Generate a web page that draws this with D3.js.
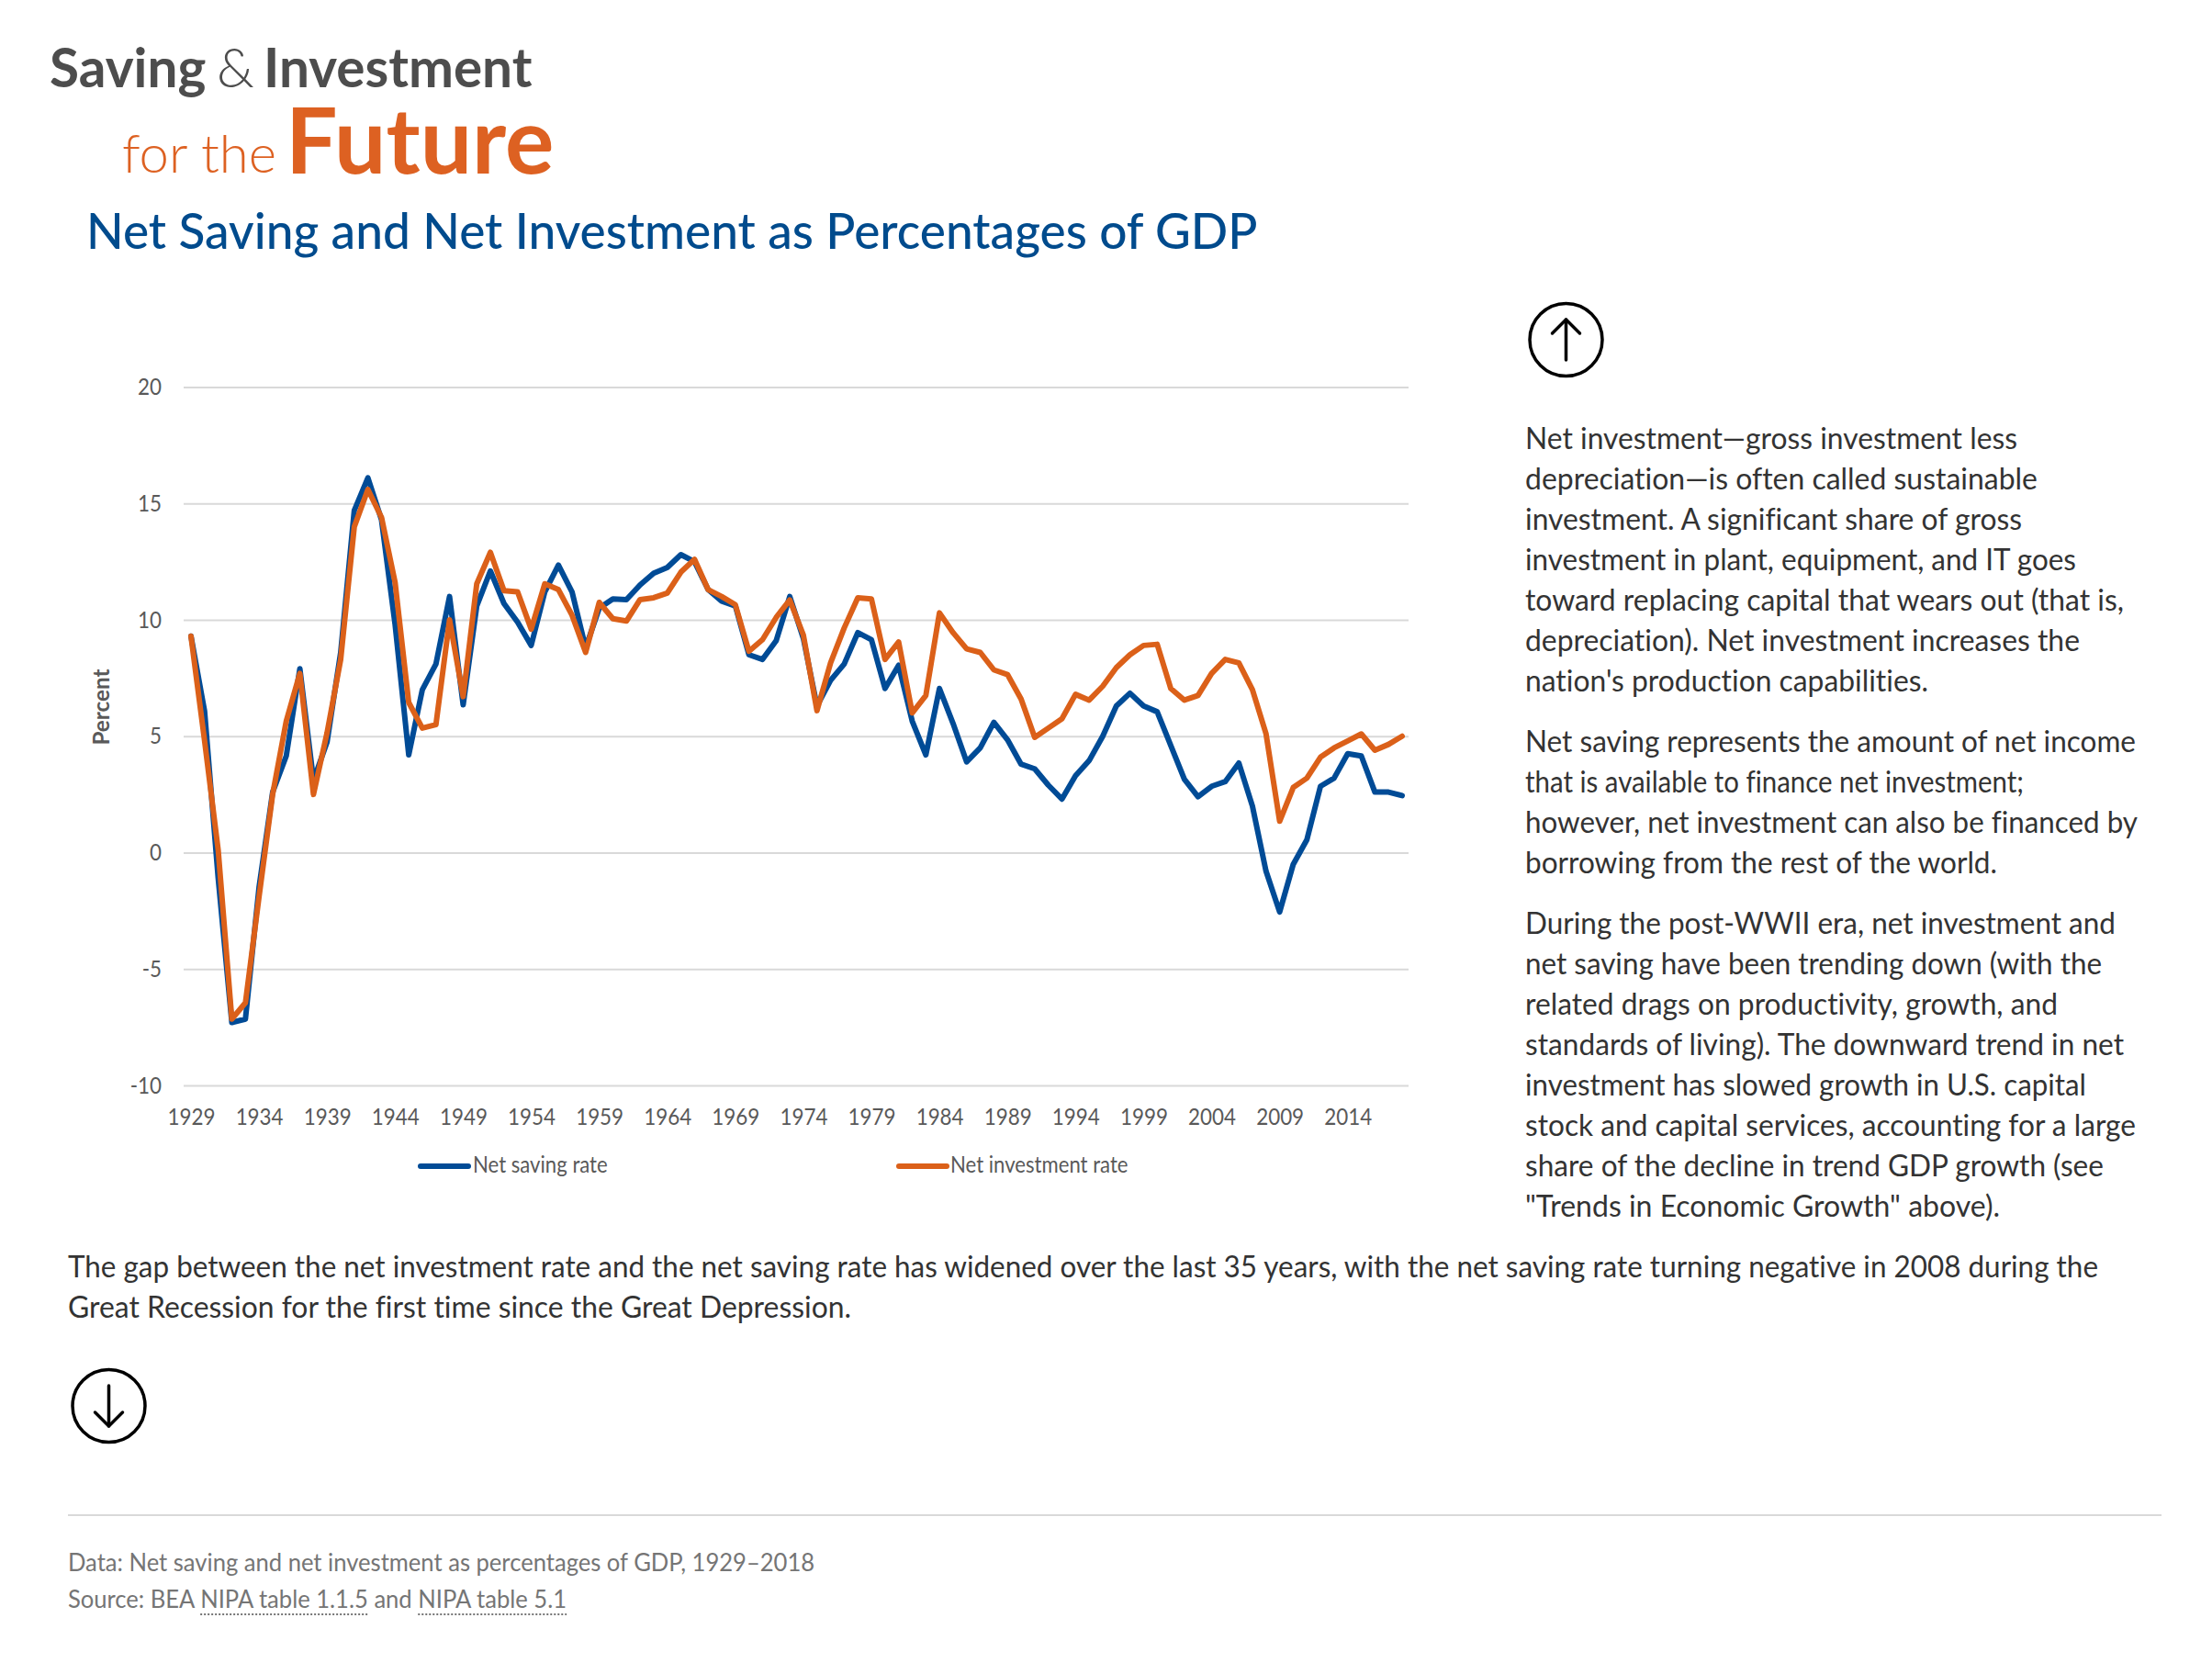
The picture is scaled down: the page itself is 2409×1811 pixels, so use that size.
<!DOCTYPE html>
<html><head><meta charset="utf-8">
<script src="https://cdn.jsdelivr.net/npm/d3@7/dist/d3.min.js"></script>
<style>html,body{margin:0;padding:0;background:#fff}svg{display:block}text{font-family:Lato,sans-serif;font-variant-ligatures:none}</style>
</head><body><div id="c"></div>
<script>
const firstYear = 1929;
const savingRate = [9.3,6.07,-1.1,-7.3,-7.15,-1.5,2.6,4.15,7.9,3.1,4.75,8.6,14.7,16.1,14.3,9.8,4.2,7.0,8.1,11.0,6.35,10.6,12.1,10.7,9.9,8.9,11.2,12.35,11.2,8.8,10.5,10.9,10.87,11.5,12.0,12.25,12.8,12.5,11.3,10.8,10.6,8.5,8.3,9.1,11.0,9.2,6.3,7.4,8.1,9.45,9.15,7.05,8.05,5.65,4.2,7.05,5.55,3.9,4.5,5.6,4.85,3.8,3.6,2.9,2.3,3.3,3.95,5.0,6.3,6.85,6.3,6.05,4.6,3.15,2.4,2.85,3.05,3.85,2.0,-0.8,-2.55,-0.5,0.55,2.85,3.2,4.25,4.15,2.6,2.6,2.45];
const investmentRate = [9.3,4.8,0.1,-7.15,-6.45,-1.9,2.5,5.65,7.7,2.5,5.15,8.3,14.0,15.6,14.4,11.6,6.45,5.35,5.5,10.0,6.7,11.55,12.9,11.25,11.2,9.6,11.55,11.3,10.2,8.6,10.75,10.05,9.95,10.87,10.95,11.15,12.05,12.6,11.3,11.0,10.65,8.65,9.15,10.1,10.85,9.35,6.1,8.15,9.65,10.95,10.9,8.3,9.05,6.0,6.75,10.3,9.45,8.75,8.6,7.85,7.65,6.6,4.95,5.35,5.75,6.8,6.55,7.15,7.95,8.5,8.9,8.95,7.05,6.55,6.75,7.7,8.3,8.15,7.0,5.1,1.35,2.8,3.2,4.1,4.5,4.8,5.1,4.4,4.65,5.0];
const yTicks = [-10,-5,0,5,10,15,20];
const xTickYears = [1929,1934,1939,1944,1949,1954,1959,1964,1969,1974,1979,1984,1989,1994,1999,2004,2009,2014];
const seriesNames = ["Net saving rate","Net investment rate"];
const seriesColors = ["#004b96","#db6019"];
const sideParagraphs = [
 ["Net investment—gross investment less","depreciation—is often called sustainable","investment. A significant share of gross","investment in plant, equipment, and IT goes","toward replacing capital that wears out (that is,","depreciation). Net investment increases the","nation's production capabilities."],
 ["Net saving represents the amount of net income","that is available to finance net investment;","however, net investment can also be financed by","borrowing from the rest of the world."],
 ["During the post-WWII era, net investment and","net saving have been trending down (with the","related drags on productivity, growth, and","standards of living). The downward trend in net","investment has slowed growth in U.S. capital","stock and capital services, accounting for a large","share of the decline in trend GDP growth (see","\"Trends in Economic Growth\" above)."]];
const bottomLines = ["The gap between the net investment rate and the net saving rate has widened over the last 35 years, with the net saving rate turning negative in 2008 during the","Great Recession for the first time since the Great Depression."];
// line widths of the running text, in pixels
const sideWidths = [[536,558,541,600,652,604,439],[665,543,667,514],[643,628,580,652,611,665,630,517]];
const bottomWidths = [2211,853];

const svg = d3.select("#c").append("svg").attr("width",2409).attr("height",1811);
const x = d3.scaleLinear().domain([1929,2018]).range([208,1527]);
const y = d3.scaleLinear().domain([-10,20]).range([1182,421.5]);
function squeeze(sel,f){ sel.each(function(){ d3.select(this).attr("lengthAdjust","spacingAndGlyphs").attr("textLength",this.getComputedTextLength()*f); }); return sel; }
function fit(sel,w){ return sel.attr("lengthAdjust","spacingAndGlyphs").attr("textLength",w); }

// header
const head = (tx,ty,size,weight,fill,s)=>svg.append("text").attr("x",tx).attr("y",ty).attr("font-size",size).attr("font-weight",weight).attr("fill",fill).text(s);
head(54,95,58.5,700,"#4d4d4d","Saving");
head(236,95,58.5,300,"#4d4d4d","&");
head(287,95,58.5,700,"#4d4d4d","Investment");
head(133,188,58,300,"#dd6122","for the");
head(311,189,100,700,"#dd6122","Future");
squeeze(svg.append("text").attr("x",94).attr("y",271).attr("font-size",54).attr("fill","#004b8d").attr("font-weight",500).text("Net Saving and Net Investment as Percentages of GDP"),0.985);

// grid + axes
const gy = svg.append("g").attr("transform","translate(200,0)")
  .call(d3.axisLeft(y).tickValues(yTicks).tickSize(-1334).tickPadding(24).tickFormat(d=>String(d)));
gy.select(".domain").remove();
gy.selectAll("line").attr("stroke","#d9d9d9").attr("stroke-width",2);
squeeze(gy.selectAll("text").attr("font-family",null).attr("font-size",25.6).attr("fill","#595959"),0.875);
const gx = svg.append("g").attr("transform","translate(0,1182)")
  .call(d3.axisBottom(x).tickValues(xTickYears).tickSize(0).tickPadding(25).tickFormat(d=>String(d)));
gx.select(".domain").remove();
squeeze(gx.selectAll("text").attr("font-family",null).attr("font-size",25.6).attr("fill","#595959"),0.875);
svg.append("text").attr("transform","translate(119,770) rotate(-90)").attr("text-anchor","middle").attr("font-weight",700).attr("font-size",24.3).attr("fill","#595959").text("Percent");

// lines
const line = d3.line().x((d,i)=>x(firstYear+i)).y(d=>y(d));
[savingRate,investmentRate].forEach((s,k)=>{
  svg.append("path").attr("d",line(s)).attr("fill","none").attr("stroke",seriesColors[k]).attr("stroke-width",6).attr("stroke-linejoin","round").attr("stroke-linecap","round");
});

// legend
[[458,510,515],[979,1031,1035]].forEach((p,k)=>{
  svg.append("line").attr("x1",p[0]).attr("x2",p[1]).attr("y1",1270).attr("y2",1270).attr("stroke",seriesColors[k]).attr("stroke-width",6).attr("stroke-linecap","round");
  squeeze(svg.append("text").attr("x",p[2]).attr("y",1277).attr("font-size",25.3).attr("fill","#595959").text(seriesNames[k]),0.875);
});

// arrows
function arrowIcon(cx,cy,dir){
  const g = svg.append("g").attr("fill","none").attr("stroke","#000").attr("stroke-width",3.5).attr("stroke-linecap","round").attr("stroke-linejoin","round");
  g.append("circle").attr("cx",cx).attr("cy",cy).attr("r",39.5);
  g.append("line").attr("x1",cx).attr("x2",cx).attr("y1",cy-dir*22).attr("y2",cy+dir*22);
  g.append("path").attr("d",`M${cx-15},${cy+dir*7}L${cx},${cy+dir*22}L${cx+15},${cy+dir*7}`);
}
arrowIcon(1705.5,370,-1);
arrowIcon(118.5,1531,1);

// text blocks
let by = 489;
sideParagraphs.forEach((p,pi)=>{
  p.forEach((l,li)=>{ fit(svg.append("text").attr("x",1661).attr("y",by).attr("font-size",32).attr("fill","#333").text(l),sideWidths[pi][li]); by+=44; });
  by += 22;
});
bottomLines.forEach((l,i)=>fit(svg.append("text").attr("x",74).attr("y",1391+i*44).attr("font-size",32).attr("fill","#333").text(l),bottomWidths[i]));

svg.append("line").attr("x1",74).attr("x2",2354).attr("y1",1650).attr("y2",1650).attr("stroke","#d9d9d9").attr("stroke-width",2);
squeeze(svg.append("text").attr("x",74).attr("y",1711).attr("font-size",26).attr("fill","#757575").text("Data: Net saving and net investment as percentages of GDP, 1929–2018"),0.984);
const src = svg.append("text").attr("x",74).attr("y",1751).attr("font-size",26).attr("fill","#757575");
src.append("tspan").text("Source: BEA ");
src.append("tspan").attr("class","u").text("NIPA table 1.1.5");
src.append("tspan").text(" and ");
src.append("tspan").attr("class","u").text("NIPA table 5.1");
squeeze(src,0.984);
src.selectAll("tspan.u").each(function(){
  const n=this, s=n.getStartPositionOfChar(0).x, e=n.getEndPositionOfChar(n.getNumberOfChars()-1).x;
  svg.append("line").attr("x1",s).attr("x2",e).attr("y1",1758).attr("y2",1758).attr("stroke","#757575").attr("stroke-width",2).attr("stroke-dasharray","2,2");
});
</script></body></html>
